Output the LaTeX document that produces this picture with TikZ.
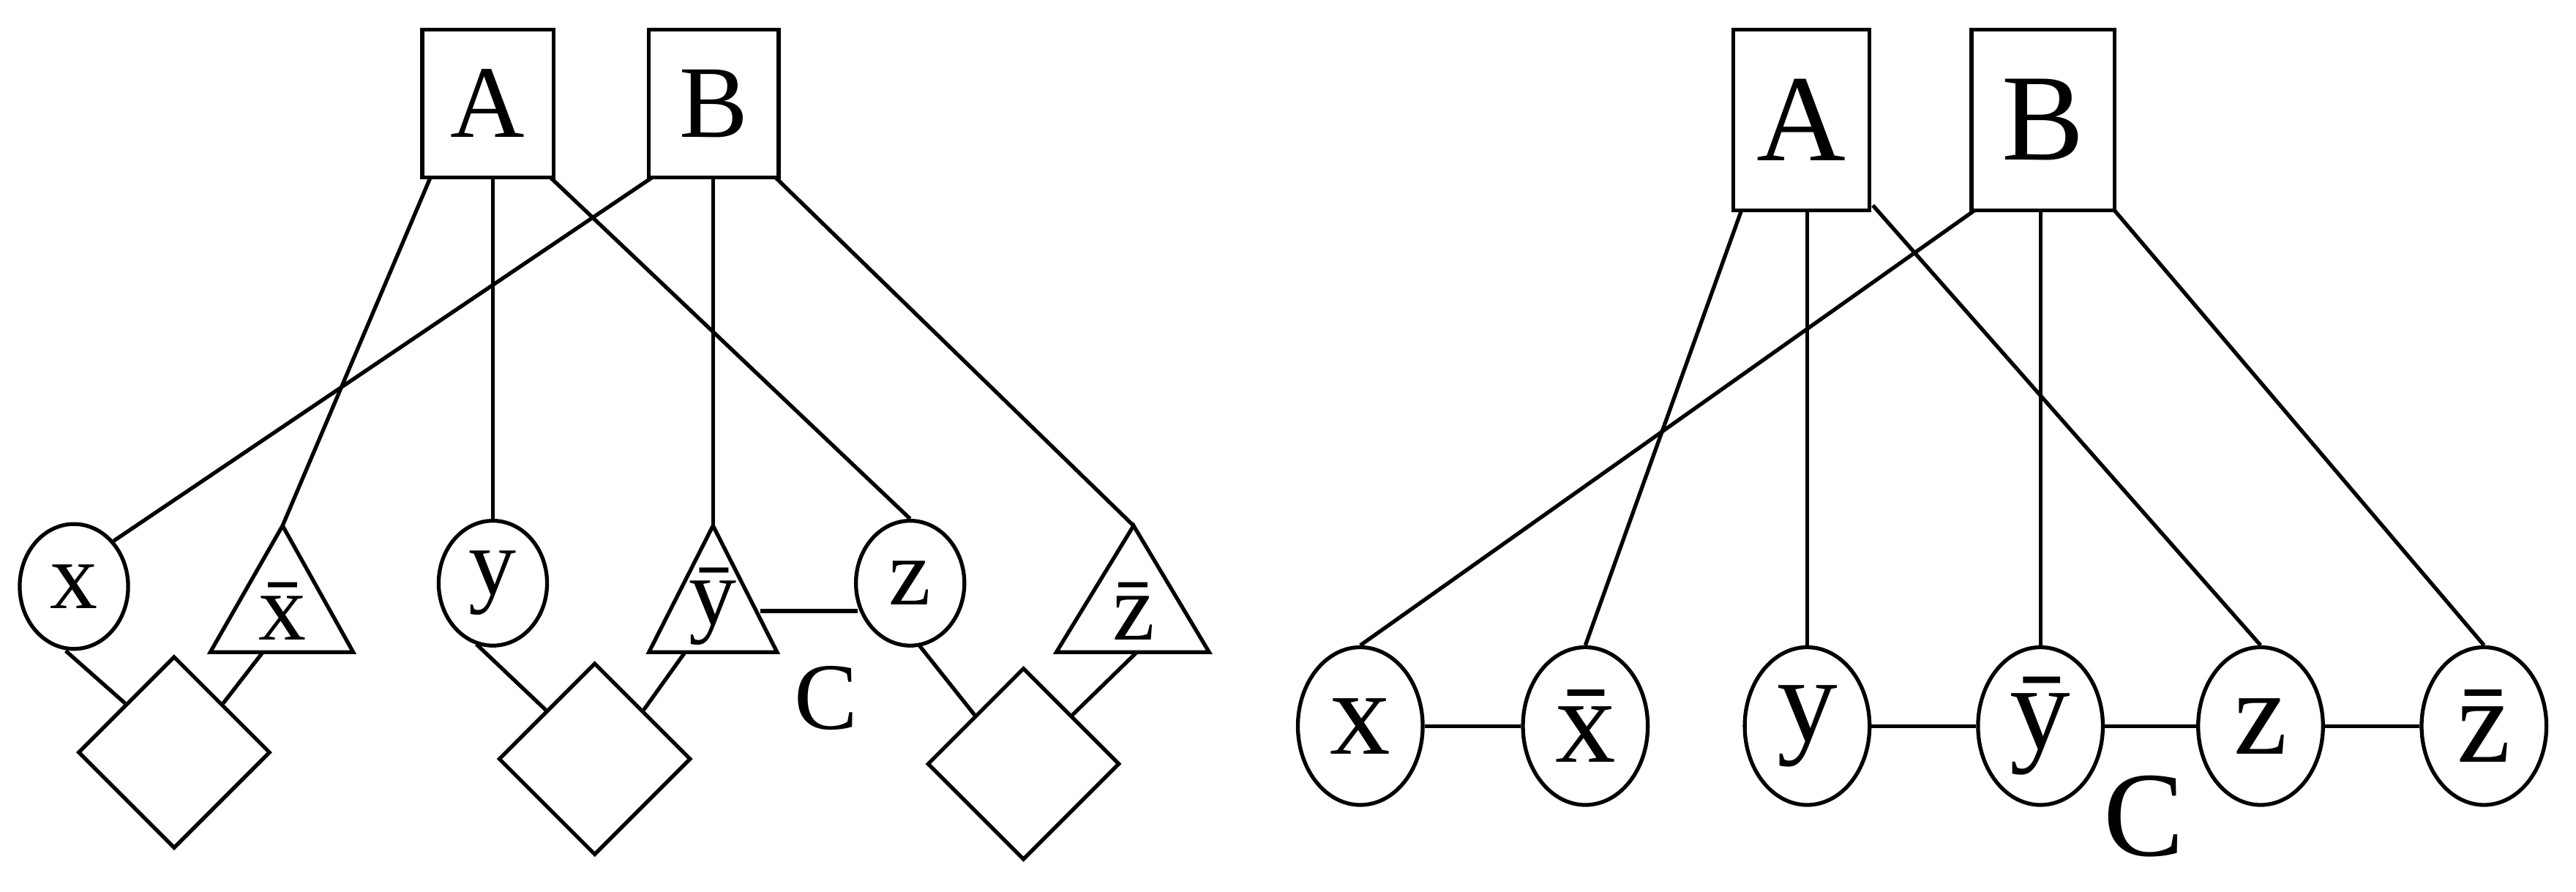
\documentclass[tikz,border=0pt]{standalone}
\usepackage{fontspec}
\setmainfont{Liberation Serif}
\usetikzlibrary{shapes.geometric}
\begin{document}
\begin{tikzpicture}[x=0.02245cm,y=-0.02245cm,line width=1.5pt,
  boxn/.style={draw,minimum width=#1*0.02245cm,minimum height=90*0.02245cm,inner sep=0pt,font=\fontsize{40}{40}\selectfont},
  lcirc/.style={draw,ellipse,minimum width=66*0.02245cm,minimum height=76*0.02245cm,inner sep=0pt,font=\fontsize{37}{37}\selectfont},
  rell/.style={draw,ellipse,minimum width=76*0.02245cm,minimum height=96*0.02245cm,inner sep=0pt,font=\fontsize{47}{47}\selectfont},
  lab/.style={inner sep=0pt,font=\fontsize{37}{37}\selectfont},
  dia/.style={draw,diamond,minimum width=117*0.02245cm,minimum height=117*0.02245cm,inner sep=0pt}]
\useasboundingbox (0,0) rectangle (1568,543);
% left
\node[boxn=80] (A) at (297,63) {A};
\node[boxn=79] (B) at (434.5,63) {B};
\node[lcirc] (x) at (45,357) {x};
\node[lcirc] (y) at (300,355) {y};
\node[lcirc] (z) at (554,355) {z};
\coordinate (t1) at (172,320); \draw (t1) -- (215,397) -- (128,397) -- cycle;
\node[lab] (t1l) at (172,372) {\=x};
\coordinate (t2) at (434,320); \draw (t2) -- (473,397) -- (395,397) -- cycle;
\node[lab] (t2l) at (434,369) {\=y};
\coordinate (t3) at (690,320); \draw (t3) -- (736,397) -- (643,397) -- cycle;
\node[lab] (t3l) at (690,372) {\=z};
\node[dia] (d1) at (106,458) {};
\node[dia] (d2) at (362,462) {};
\node[dia] (d3) at (623,465) {};
\coordinate (Ab1) at (262,108); \coordinate (Ab2) at (300,108); \coordinate (Ab3) at (335,108);
\coordinate (Bb1) at (397,108); \coordinate (Bb2) at (434,108); \coordinate (Bb3) at (472,108);
\draw (Ab1) -- (t1); \draw (Ab2) -- (y.north); \draw (Ab3) -- (z.north);
\draw (Bb1) -- (x.north east); \draw (Bb2) -- (t2); \draw (Bb3) -- (t3);
\coordinate (t2r) at (463,372); \coordinate (zl) at (522,372);
\draw (t2r) -- (zl);
\node[lab] (C1) at (503,425) {C};
\coordinate (t1b) at (160,397); \coordinate (t2b) at (417,397); \coordinate (t3b) at (692,397);
\draw (x.south) ++(-5,0) -- (d1.north west);
\draw (t1b) -- (d1.north east);
\draw (y.south) ++(-10,-2) -- (d2.north west);
\draw (t2b) -- (d2.north east);
\draw (z.south) ++(5,-2) -- (d3.north west);
\draw (t3b) -- (d3.north east);
% right
\node[boxn=83,minimum height=110*0.02245cm,font=\fontsize{48}{48}\selectfont] (A2) at (1096.5,73) {A};
\node[boxn=87,minimum height=110*0.02245cm,font=\fontsize{48}{48}\selectfont] (B2) at (1243.5,73) {B};
\node[rell] (rx) at (828,442) {x};
\node[rell] (rxb) at (965,442) {\=x};
\node[rell] (ry) at (1100,442) {y};
\node[rell] (ryb) at (1242,442) {\=y};
\node[rell] (rz) at (1376,442) {z};
\node[rell] (rzb) at (1512,442) {\=z};
\draw (rx) -- (rxb); \draw (ry) -- (ryb); \draw (ryb) -- (rz); \draw (rz) -- (rzb);
\node[lab,font=\fontsize{47}{47}\selectfont] (C2) at (1305,497) {C};
\coordinate (Ar1) at (1060,128); \coordinate (Ar2) at (1100,128); \coordinate (Ar3) at (1140,125);
\coordinate (Br1) at (1202,128); \coordinate (Br2) at (1242,128); \coordinate (Br3) at (1287,128);
\draw (Ar1) -- (rxb.north); \draw (Ar2) -- (ry.north); \draw (Ar3) -- (rz.north);
\draw (Br1) -- (rx.north); \draw (Br2) -- (ryb.north); \draw (Br3) -- (rzb.north);
\end{tikzpicture}
\end{document}
